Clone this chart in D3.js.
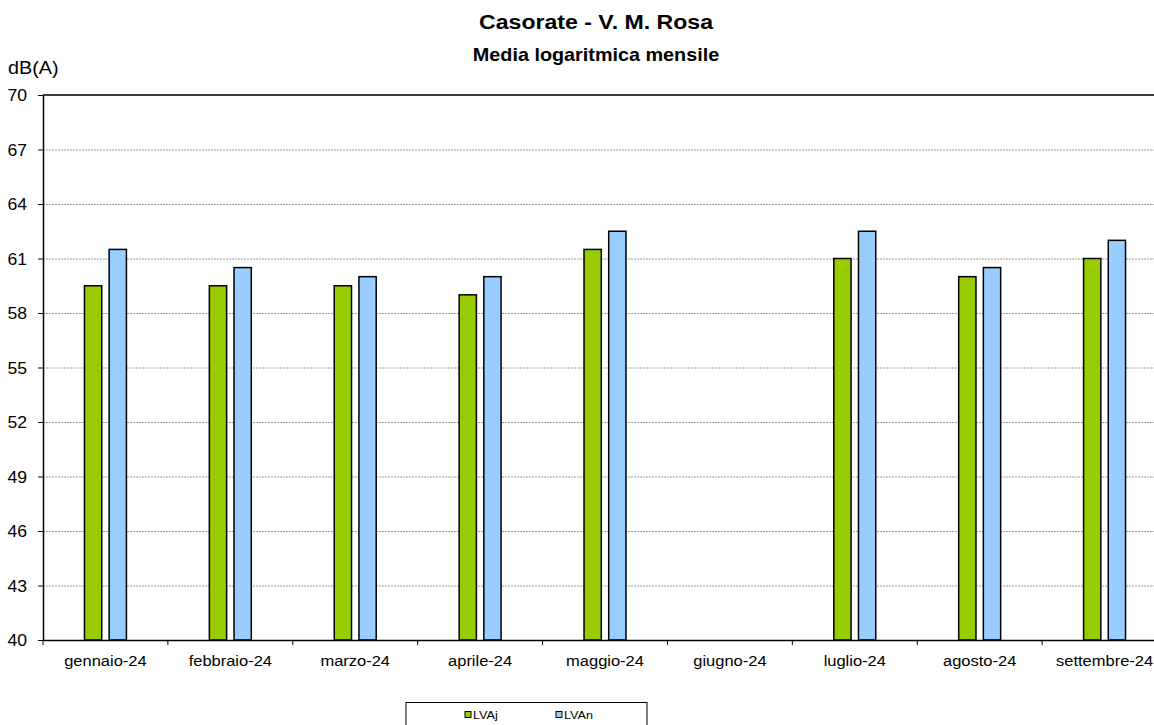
<!DOCTYPE html>
<html>
<head>
<meta charset="utf-8">
<script src="https://cdn.jsdelivr.net/npm/d3@7"></script>
<style>
  html, body { margin: 0; padding: 0; background: #fff; overflow: hidden; }
  svg { display: block; font-family: "Liberation Sans", Arial, sans-serif; }
</style>
</head>
<body>
<svg id="chart" width="1154" height="725"></svg>
<script>
const categories = ["gennaio-24","febbraio-24","marzo-24","aprile-24","maggio-24","giugno-24","luglio-24","agosto-24","settembre-24"];
const seriesNames = ["LVAj","LVAn"];
const LVAj = [59.5, 59.5, 59.5, 59.0, 61.5, null, 61.0, 60.0, 61.0];
const LVAn = [61.5, 60.5, 60.0, 60.0, 62.5, null, 62.5, 60.5, 62.0];
const yTicks = [40,43,46,49,52,55,58,61,64,67,70];
const colors = ["#99CC00","#99CCFF"];

(function () {
const svg = d3.select("#chart");
const SX = 1.1;
const pLeft = 43, pRight = 1167, pTop = 95, pBottom = 640;

const x = d3.scaleBand().domain(categories).range([pLeft, pRight]).padding(0);
const x1 = d3.scaleBand().domain(seriesNames)
  .range([x.bandwidth()*0.332, x.bandwidth()*0.668]).paddingInner(0.3).paddingOuter(0);
const y = d3.scaleLinear().domain([40,70]).range([pBottom, pTop]);

// gridlines
svg.append("g").selectAll("line").data(yTicks.filter(v => v > 40 && v < 70)).join("line")
  .attr("x1", pLeft).attr("x2", pRight)
  .attr("y1", d => y(d) + 0.5).attr("y2", d => y(d) + 0.5)
  .attr("stroke", "#9a9a9a").attr("stroke-width", 1).attr("stroke-dasharray", "2,1");

// top border
svg.append("line").attr("x1", pLeft).attr("x2", pRight)
  .attr("y1", y(70)).attr("y2", y(70))
  .attr("stroke", "#000").attr("stroke-width", 1.5);

// bars
const data = categories.map((c, i) => ({c, vals: [LVAj[i], LVAn[i]]}));
const groups = svg.append("g").selectAll("g").data(data).join("g")
  .attr("transform", d => `translate(${x(d.c)},0)`);
groups.selectAll("rect")
  .data(d => d.vals.map((v, j) => ({name: seriesNames[j], v, j})).filter(e => e.v != null))
  .join("rect")
  .attr("x", e => x1(e.name))
  .attr("width", x1.bandwidth())
  .attr("y", e => y(e.v))
  .attr("height", e => y(40) - y(e.v))
  .attr("fill", e => colors[e.j])
  .attr("stroke", "#000").attr("stroke-width", 1.5);

// y axis
const yAxis = svg.append("g").attr("transform", `translate(${pLeft},0)`)
  .call(d3.axisLeft(y).tickValues(yTicks).tickSize(5).tickSizeOuter(0).tickFormat(d3.format("d")));
yAxis.select(".domain").attr("stroke", "#000").attr("stroke-width", 1.5);
yAxis.selectAll(".tick line").attr("stroke", "#000");
yAxis.selectAll(".tick text")
  .attr("x", -16/SX).attr("dy", "0.35em")
  .attr("transform", `scale(${SX},1)`)
  .attr("font-size", 16).attr("fill", "#000")
  .attr("font-family", "Liberation Sans, Arial, sans-serif");

// x axis
const xAxis = svg.append("g").attr("transform", `translate(0,${pBottom})`)
  .call(d3.axisBottom(x).tickSize(0).tickSizeOuter(0));
xAxis.select(".domain").attr("stroke", "#000").attr("stroke-width", 1.5);
xAxis.selectAll(".tick text")
  .attr("y", 26).attr("dy", 0)
  .attr("transform", `scale(${SX},1)`)
  .attr("font-size", 15).attr("fill", "#000")
  .attr("font-family", "Liberation Sans, Arial, sans-serif");
const bounds = categories.map(c => x(c)).concat([x.range()[1]]);
svg.append("g").selectAll("line").data(bounds).join("line")
  .attr("x1", d => d).attr("x2", d => d)
  .attr("y1", pBottom).attr("y2", pBottom + 5)
  .attr("stroke", "#000").attr("stroke-width", 1);

// titles
function stretched(txt, tx, ty, size, weight, anchor) {
  svg.append("text").text(txt)
    .attr("transform", `translate(${tx},${ty}) scale(${SX},1)`)
    .attr("font-size", size).attr("font-weight", weight)
    .attr("text-anchor", anchor).attr("fill", "#000");
}
stretched("Casorate - V. M. Rosa", 596, 29, 21, "bold", "middle");
stretched("Media logaritmica mensile", 596, 61, 18, "bold", "middle");
stretched("dB(A)", 8, 74, 18, "normal", "start");

// legend
const lg = svg.append("g");
lg.append("rect").attr("x", 406).attr("y", 702.5).attr("width", 241).attr("height", 30)
  .attr("fill", "#fff").attr("stroke", "#000").attr("stroke-width", 1);
const legendX = [465, 556];
seriesNames.forEach((n, i) => {
  lg.append("rect").attr("x", legendX[i]).attr("y", 711.5).attr("width", 6).attr("height", 6)
    .attr("fill", colors[i]).attr("stroke", "#000").attr("stroke-width", 1);
  lg.append("text").text(n)
    .attr("transform", `translate(${legendX[i] + 8},${719}) scale(1.15,1)`)
    .attr("font-size", 11).attr("fill", "#000");
});
})();
</script>
</body>
</html>
